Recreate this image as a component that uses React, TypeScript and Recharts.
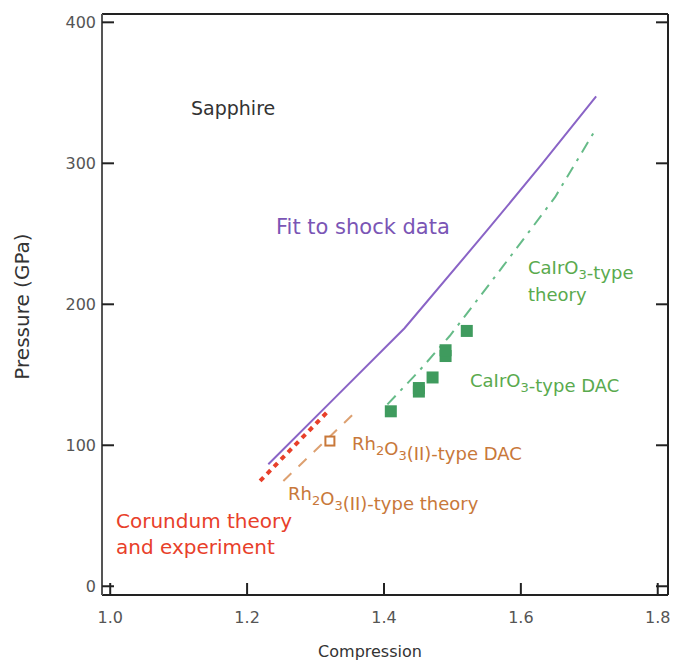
import React from 'react';
import { ComposedChart, Line, Scatter, XAxis, YAxis } from 'recharts';

// axis ticks
const compressionTicks = [1.0, 1.2, 1.4, 1.6, 1.8];
const pressureTicks = [0, 100, 200, 300, 400];

// fit to shock data (sapphire)
const shockCompression = [1.231, 1.33, 1.43, 1.55, 1.63, 1.71];
const shockPressure = [86.5, 134.5, 183, 252, 299, 347.5];

// CaIrO3-type theory
const caIrTheoryCompression = [1.405, 1.45, 1.496, 1.574, 1.65, 1.708];
const caIrTheoryPressure = [129, 152, 177.5, 227, 276, 323];

// CaIrO3-type DAC
const caIrDacCompression = [1.41, 1.451, 1.451, 1.471, 1.49, 1.49, 1.521];
const caIrDacPressure = [124.1, 138.1, 140.6, 148.1, 163.3, 167.4, 181.1];

// Rh2O3(II)-type theory
const rhTheoryCompression = [1.253, 1.36];
const rhTheoryPressure = [74.7, 124.3];

// Rh2O3(II)-type DAC
const rhDacCompression = [1.321];
const rhDacPressure = [103];

// Corundum theory and experiment
const corundumCompression = [1.219, 1.321];
const corundumPressure = [74.7, 125.5];

const X_DOMAIN = [0.988, 1.815];
const Y_DOMAIN = [-6.2, 405.9];
const TICK_LEN = 12;

const toPoints = (xs: number[], ys: number[]) => xs.map((x, i) => ({ x, y: ys[i] }));

const FONT = '"DejaVu Sans", sans-serif';
const PURPLE = '#8a64c6';
const GREEN = '#5aaa4e';
const GREEN_LINE = '#66bb88';
const GREEN_SQ = '#3f9b5e';
const ORANGE = '#c8783a';
const RED = '#e8402a';
const FRAME = '#222';

// ticks point into the plot
const BottomTick = (props: any) => {
  const { x, y, payload } = props;
  return (
    <g>
      <line x1={x} y1={y} x2={x} y2={y - TICK_LEN} stroke={FRAME} strokeWidth={2} />
      <text x={x} y={y + 28} textAnchor="middle" fill="#555" fontSize={16} fontFamily={FONT}>
        {Number(payload.value).toFixed(1)}
      </text>
    </g>
  );
};

const TopTick = (props: any) => {
  const { x, y } = props;
  return <line x1={x} y1={y} x2={x} y2={y + TICK_LEN} stroke={FRAME} strokeWidth={2} />;
};

const LeftTick = (props: any) => {
  const { x, y, payload } = props;
  return (
    <g>
      <line x1={x} y1={y} x2={x + TICK_LEN} y2={y} stroke={FRAME} strokeWidth={2} />
      <text x={x - 6} y={y + 6} textAnchor="end" fill="#555" fontSize={16} fontFamily={FONT}>
        {payload.value}
      </text>
    </g>
  );
};

const RightTick = (props: any) => {
  const { x, y } = props;
  return <line x1={x} y1={y} x2={x - TICK_LEN} y2={y} stroke={FRAME} strokeWidth={2} />;
};

const FilledSquare = (props: any) => (
  <rect x={props.cx - 6} y={props.cy - 6} width={12} height={12} fill={GREEN_SQ} />
);

const OpenSquare = (props: any) => (
  <rect x={props.cx - 4.5} y={props.cy - 4.5} width={9} height={9} fill="#fff" stroke={ORANGE} strokeWidth={2} />
);

const Sub = ({ children }: { children: string }) => (
  <>
    <tspan dy={5} fontSize={13}>{children}</tspan>
    <tspan dy={-5}></tspan>
  </>
);

export default function App() {
  return (
    <div style={{ position: 'absolute', left: 0, top: 0, width: 673, height: 662, background: '#fff' }}>
      <ComposedChart width={673} height={662} margin={{ top: 13, right: 4, bottom: 0, left: 0 }}>
        <XAxis
          type="number"
          dataKey="x"
          domain={X_DOMAIN}
          ticks={compressionTicks}
          allowDataOverflow
          height={67}
          tickSize={0}
          tickMargin={0}
          tickLine={false}
          tick={<BottomTick />}
          axisLine={{ stroke: FRAME, strokeWidth: 2 }}
          label={{ value: 'Compression', position: 'insideBottom', offset: 5, dx: -15, fill: '#333', fontSize: 16, fontFamily: FONT }}
        />
        <XAxis
          xAxisId="top"
          orientation="top"
          type="number"
          domain={X_DOMAIN}
          ticks={compressionTicks}
          allowDataOverflow
          height={1}
          tickSize={0}
          tickMargin={0}
          tickLine={false}
          tick={<TopTick />}
          axisLine={{ stroke: FRAME, strokeWidth: 2 }}
        />
        <YAxis
          type="number"
          dataKey="y"
          domain={Y_DOMAIN}
          ticks={pressureTicks}
          allowDataOverflow
          width={102}
          tickSize={0}
          tickMargin={0}
          tickLine={false}
          tick={<LeftTick />}
          axisLine={{ stroke: '#555', strokeWidth: 2 }}
          label={{ value: 'Pressure (GPa)', angle: -90, position: 'insideLeft', offset: 22, dy: 2, fill: '#333', fontSize: 20, fontFamily: FONT, style: { textAnchor: 'middle' } }}
        />
        <YAxis
          yAxisId="right"
          orientation="right"
          type="number"
          domain={Y_DOMAIN}
          ticks={pressureTicks}
          allowDataOverflow
          width={1}
          tickSize={0}
          tickMargin={0}
          tickLine={false}
          tick={<RightTick />}
          axisLine={{ stroke: FRAME, strokeWidth: 2 }}
        />

        <Line
          data={toPoints(shockCompression, shockPressure)}
          dataKey="y"
          type="linear"
          stroke={PURPLE}
          strokeWidth={2}
          dot={false}
          isAnimationActive={false}
        />
        <Line
          data={toPoints(caIrTheoryCompression, caIrTheoryPressure)}
          dataKey="y"
          type="linear"
          stroke={GREEN_LINE}
          strokeWidth={2}
          strokeDasharray="12 7 3 7"
          dot={false}
          isAnimationActive={false}
        />
        <Line
          data={toPoints(rhTheoryCompression, rhTheoryPressure)}
          dataKey="y"
          type="linear"
          stroke="#dda070"
          strokeWidth={2}
          strokeDasharray="11 10"
          dot={false}
          isAnimationActive={false}
        />
        <Line
          data={toPoints(corundumCompression, corundumPressure)}
          dataKey="y"
          type="linear"
          stroke={RED}
          strokeWidth={4}
          strokeDasharray="5 5"
          dot={false}
          isAnimationActive={false}
        />
        <Scatter data={toPoints(caIrDacCompression, caIrDacPressure)} dataKey="y" shape={FilledSquare} isAnimationActive={false} />
        <Scatter data={toPoints(rhDacCompression, rhDacPressure)} dataKey="y" shape={OpenSquare} isAnimationActive={false} />
      </ComposedChart>

      <svg width={673} height={662} style={{ position: 'absolute', left: 0, top: 0, pointerEvents: 'none' }} fontFamily={FONT}>
        <text x={191} y={115} fill="#333" fontSize={19}>Sapphire</text>
        <text x={276} y={234} fill="#7a55b5" fontSize={21}>Fit to shock data</text>
        <text x={528} y={274} fill={GREEN} fontSize={18}>CaIrO<Sub>3</Sub>-type</text>
        <text x={528} y={301} fill={GREEN} fontSize={18}>theory</text>
        <text x={470} y={387} fill={GREEN} fontSize={18}>CaIrO<Sub>3</Sub>-type DAC</text>
        <text x={352} y={450} fill={ORANGE} fontSize={18}>Rh<Sub>2</Sub>O<Sub>3</Sub>(II)-type DAC</text>
        <text x={288} y={500} fill={ORANGE} fontSize={18}>Rh<Sub>2</Sub>O<Sub>3</Sub>(II)-type theory</text>
        <text x={116} y={528} fill={RED} fontSize={20}>Corundum theory</text>
        <text x={116} y={554} fill={RED} fontSize={20}>and experiment</text>
      </svg>
    </div>
  );
}
